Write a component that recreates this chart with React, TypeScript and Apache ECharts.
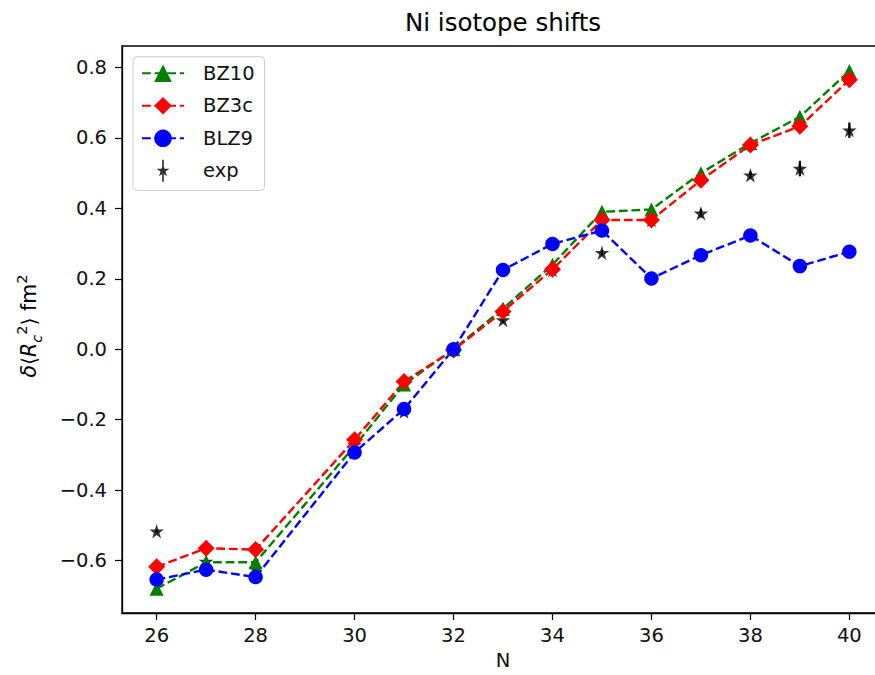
import React, { useEffect, useRef } from "react";
import * as echarts from "echarts";

const N = [26, 27, 28, 30, 31, 32, 33, 34, 35, 36, 37, 38, 39, 40];
const bz10 = [-0.68, -0.605, -0.605, -0.275, -0.1, 0.0, 0.115, 0.24, 0.39, 0.397, 0.5, 0.585, 0.66, 0.79];
const bz3c = [-0.618, -0.565, -0.569, -0.257, -0.092, -0.002, 0.107, 0.227, 0.367, 0.367, 0.48, 0.58, 0.633, 0.765];
const blz9 = [-0.654, -0.626, -0.647, -0.293, -0.17, 0.0, 0.225, 0.299, 0.337, 0.201, 0.267, 0.323, 0.236, 0.277];
const expVals = [-0.517, -0.603, -0.624, -0.271, -0.177, 0.0, 0.083, 0.225, 0.274, 0.367, 0.386, 0.494, 0.513, 0.622];
const expErr = [0.005, 0.012, 0.012, 0.01, 0.01, 0.0, 0.008, 0.008, 0.008, 0.01, 0.012, 0.01, 0.022, 0.022];
const xTicks = [26, 28, 30, 32, 34, 36, 38, 40];
const yTicks = [-0.6, -0.4, -0.2, 0.0, 0.2, 0.4, 0.6, 0.8];

const FONT = "DejaVu Sans";
const STAR =
  "path://M100,0 L122.45,69.1 L195.1,69.1 L136.3,111.8 L158.8,180.9 L100,138.2 L41.2,180.9 L63.7,111.8 L4.9,69.1 L77.55,69.1 Z";
const STAR_BAR =
  "path://M100,0 L122.45,69.1 L195.1,69.1 L136.3,111.8 L158.8,180.9 L100,138.2 L41.2,180.9 L63.7,111.8 L4.9,69.1 L77.55,69.1 Z M88,-60 L112,-60 L112,260 L88,260 Z";

const lineDash = [8.8, 3.8];

export default function App() {
  const ref = useRef<HTMLDivElement>(null);
  useEffect(() => {
    if (!ref.current) return;
    const chart = echarts.init(ref.current, null, { renderer: "svg" });
    const mk = (arr: number[]) => N.map((n, i) => [n, arr[i]]);
    const errData = N.map((n, i) => [n, expVals[i] - expErr[i], expVals[i] + expErr[i]]);
    const fmt = (v: number) => (v < 0 ? "\u2212" + Math.abs(v).toFixed(1) : v.toFixed(1));
    chart.setOption({
      animation: false,
      grid: {
        left: 122,
        top: 46,
        right: -9,
        bottom: 62,
        show: true,
        borderColor: "#000",
        borderWidth: 1.3,
        containLabel: false,
        outerBoundsMode: "none",
      },
      graphic: [
        {
          type: "text",
          x: 503,
          y: 22,
          style: {
            text: "Ni isotope shifts",
            font: `24.5px "${FONT}"`,
            fill: "#000",
            align: "center",
            verticalAlign: "middle",
          },
        },
        {
          type: "text",
          x: 29,
          y: 326,
          rotation: Math.PI / 2,
          style: {
            text: "{i|\u03b4}{a|\u27e8}{i|R}{sub|c}{sup|2}{a|\u27e9 fm}{sup|2}",
            align: "center",
            verticalAlign: "middle",
            fill: "#000",
            rich: {
              a: { fontFamily: FONT, fontSize: 20.5, lineHeight: 30, fill: "#000" },
              i: { fontFamily: FONT, fontSize: 20.5, fontStyle: "italic", lineHeight: 30, fill: "#000" },
              sub: { fontFamily: FONT, fontSize: 14.5, fontStyle: "italic", verticalAlign: "bottom", fill: "#000" },
              sup: { fontFamily: FONT, fontSize: 14.5, verticalAlign: "top", fill: "#000" },
            },
          },
        },
      ],
      legend: {
        data: [{ name: "BZ10" }, { name: "BZ3c" }, { name: "BLZ9" }, { name: "exp", icon: STAR_BAR }],
        orient: "vertical",
        left: 133,
        top: 56.7,
        itemWidth: 42,
        itemHeight: 22,
        itemGap: 10.5,
        padding: [5.6, 10, 8.7, 8],
        borderColor: "#cccccc",
        borderWidth: 1,
        borderRadius: 4,
        backgroundColor: "rgba(255,255,255,0.8)",
        selectedMode: false,
        formatter: "{p|}{name}",
        textStyle: {
          fontFamily: FONT,
          fontSize: 19.5,
          color: "#111",
          lineHeight: 22,
          rich: { p: { width: 14, fontSize: 19.5, lineHeight: 22 } },
        },
      },
      xAxis: {
        type: "value",
        min: 25.3,
        max: 40.7,
        name: "N",
        nameLocation: "middle",
        nameGap: 37,
        nameTextStyle: { fontFamily: FONT, fontSize: 19.5, color: "#111" },
        axisLine: { show: true, onZero: false, lineStyle: { color: "#000", width: 1.3 } },
        axisTick: { show: true, inside: false, length: 7, lineStyle: { color: "#000", width: 1.2 }, customValues: xTicks },
        axisLabel: { fontFamily: FONT, fontSize: 19.5, color: "#111", margin: 12, customValues: xTicks },
        splitLine: { show: false },
      },
      yAxis: {
        type: "value",
        min: -0.749,
        max: 0.861,
        axisLine: { show: true, onZero: false, lineStyle: { color: "#000", width: 1.3 } },
        axisTick: { show: true, inside: false, length: 7, lineStyle: { color: "#000", width: 1.2 }, customValues: yTicks },
        axisLabel: { fontFamily: FONT, fontSize: 19.5, color: "#111", margin: 15, customValues: yTicks, formatter: fmt },
        splitLine: { show: false },
      },
      series: [
        {
          name: "BZ10",
          type: "line",
          data: mk(bz10),
          symbol: "triangle",
          symbolSize: 14,
          itemStyle: { color: "#008000" },
          lineStyle: { color: "#008000", width: 2.4, type: lineDash },
          silent: true,
          emphasis: { disabled: true },
        },
        {
          name: "BZ3c",
          type: "line",
          data: mk(bz3c),
          symbol: "diamond",
          symbolSize: 17,
          itemStyle: { color: "#ff0000" },
          lineStyle: { color: "#ff0000", width: 2.4, type: lineDash },
          silent: true,
          emphasis: { disabled: true },
        },
        {
          name: "BLZ9",
          type: "line",
          data: mk(blz9),
          symbol: "circle",
          symbolSize: 14.5,
          itemStyle: { color: "#0000ff" },
          lineStyle: { color: "#0000ff", width: 2.4, type: lineDash },
          silent: true,
          emphasis: { disabled: true },
        },
        {
          name: "exp-err",
          type: "custom",
          data: errData,
          encode: { x: 0, y: [1, 2] },
          silent: true,
          renderItem: (params: any, api: any) => {
            const x = api.value(0);
            const p1 = api.coord([x, api.value(1)]);
            const p2 = api.coord([x, api.value(2)]);
            return {
              type: "line",
              shape: { x1: p1[0], y1: p1[1], x2: p2[0], y2: p2[1] },
              style: { stroke: "#000", lineWidth: 2.2 },
            };
          },
        },
        {
          name: "exp",
          type: "scatter",
          data: mk(expVals),
          symbol: STAR,
          symbolSize: 14.5,
          itemStyle: { color: "#000" },
          silent: true,
          emphasis: { disabled: true },
        },
      ],
    });
    return () => chart.dispose();
  }, []);
  return <div ref={ref} style={{ position: "absolute", left: 0, top: 0, width: 875, height: 675 }} />;
}
